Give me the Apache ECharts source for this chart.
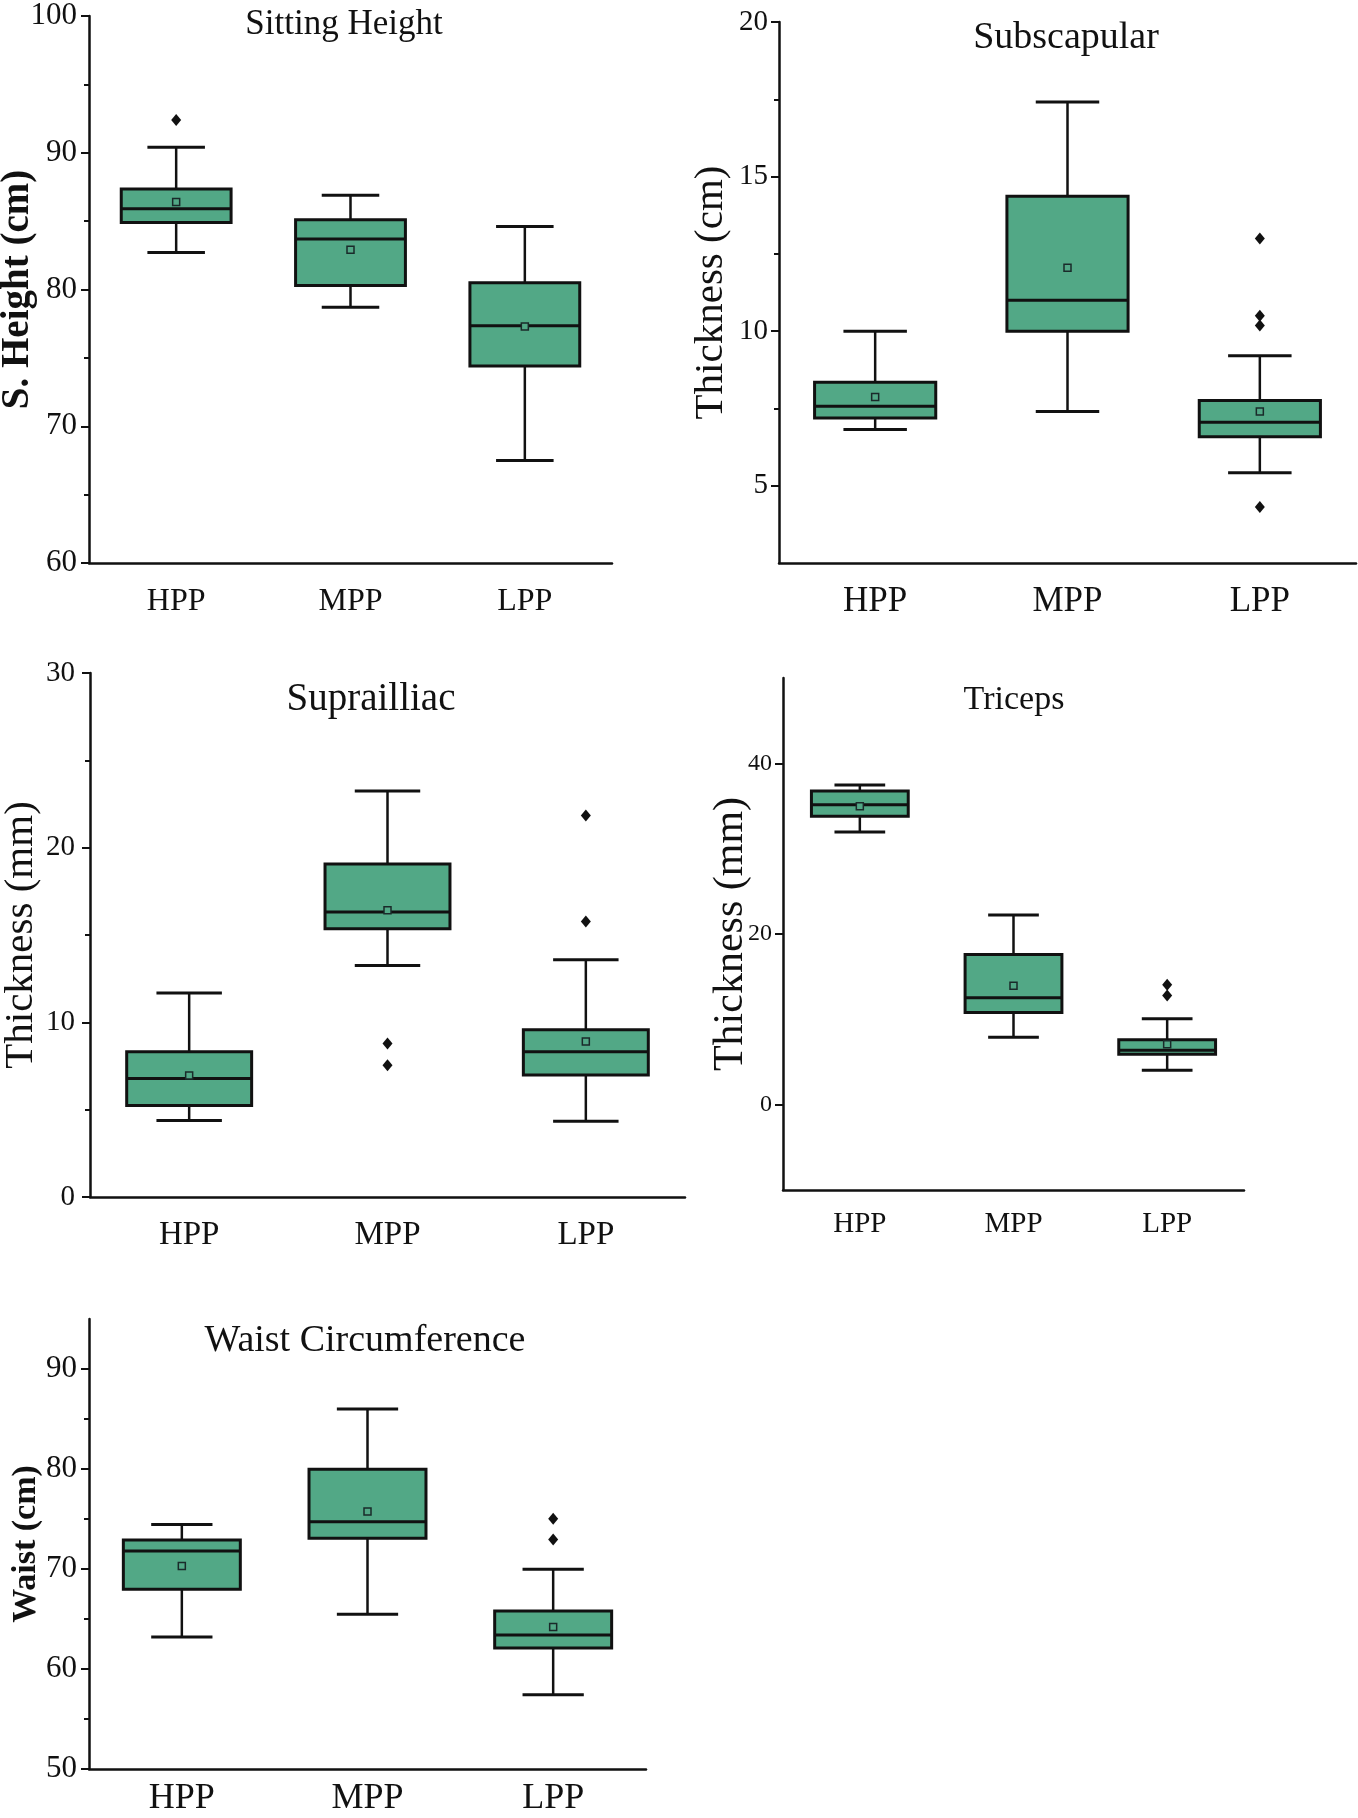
<!DOCTYPE html>
<html>
<head>
<meta charset="utf-8">
<title>Anthropometric box plots</title>
<script src="https://cdn.jsdelivr.net/npm/echarts@6/dist/echarts.min.js"></script>
<style>
  html, body { margin: 0; padding: 0; background: #fff; }
  #chart { width: 1358px; height: 1818px; }
</style>
</head>
<body>
<div id="chart"></div>
<script>
'use strict';

var categories = ['HPP', 'MPP', 'LPP'];

// box rows: [lower whisker, Q1, median, Q3, upper whisker]
var sittingBoxes = [[82.7, 84.9, 85.9, 87.35, 90.4], [78.7, 80.3, 83.7, 85.1, 86.9], [67.5, 74.4, 77.35, 80.5, 84.6]];
var sittingMeans = [86.4, 82.9, 77.3];
var sittingOutliers = [[0, 92.4]];
var sittingTicks = [60, 70, 80, 90, 100];
var sittingMinor = [65, 75, 85, 95];

var subscapBoxes = [[6.82, 7.19, 7.57, 8.35, 10.0], [7.4, 10.0, 11.0, 14.36, 17.41], [5.42, 6.58, 7.05, 7.76, 9.2]];
var subscapMeans = [7.87, 12.05, 7.4];
var subscapOutliers = [[2, 13.0], [2, 10.5], [2, 10.18], [2, 4.31]];
var subscapTicks = [5, 10, 15, 20];
var subscapMinor = [7.5, 12.5, 17.5];

var supraBoxes = [[4.38, 5.24, 6.78, 8.31, 11.68], [13.26, 15.36, 16.31, 19.07, 23.24], [4.34, 6.98, 8.31, 9.58, 13.58]];
var supraMeans = [6.96, 16.42, 8.9];
var supraOutliers = [[1, 8.79], [1, 7.54], [2, 21.84], [2, 15.77]];
var supraTicks = [0, 10, 20, 30];
var supraMinor = [5, 15, 25];

var tricepsBoxes = [[31.96, 33.81, 35.15, 36.77, 37.46], [7.9, 10.81, 12.52, 17.6, 22.22], [4.02, 5.91, 6.37, 7.62, 10.07]];
var tricepsMeans = [34.97, 13.95, 7.07];
var tricepsOutliers = [[2, 14.04], [2, 12.79]];
var tricepsTicks = [0, 20, 40];
var tricepsMinor = [];

var waistBoxes = [[63.2, 67.97, 71.8, 72.9, 74.46], [65.47, 73.07, 74.73, 79.97, 86.0], [57.43, 62.1, 63.4, 65.8, 69.97]];
var waistMeans = [70.3, 75.74, 64.19];
var waistOutliers = [[2, 75.03], [2, 72.94]];
var waistTicks = [50, 60, 70, 80, 90];
var waistMinor = [55, 65, 75, 85];

var FONT = 'Liberation Serif';
var INK = '#111';
var BOX_FILL = '#52a886';

var panels = [
    { title: 'Sitting Height', titleSize: 35, titleX: 344, titleY: 7,
      name: 'S. Height (cm)', nameBold: true, nameSize: 39, nameGap: 52,
      grid: { left: 89, top: 16, width: 523, height: 547 },
      min: 60, max: 100, ticks: sittingTicks, minor: sittingMinor,
      ySize: 31, yMargin: 12, xSize: 32, xMargin: 23,
      boxes: sittingBoxes, means: sittingMeans, outliers: sittingOutliers },
    { title: 'Subscapular', titleSize: 38, titleX: 1066, titleY: 19,
      name: 'Thickness (cm)', nameBold: false, nameSize: 41, nameGap: 47,
      grid: { left: 779, top: 22, width: 577, height: 541 },
      min: 2.5, max: 20, ticks: subscapTicks, minor: subscapMinor,
      ySize: 29, yMargin: 11, xSize: 35, xMargin: 21,
      boxes: subscapBoxes, means: subscapMeans, outliers: subscapOutliers },
    { title: 'Suprailliac', titleSize: 39, titleX: 371, titleY: 680,
      name: 'Thickness (mm)', nameBold: false, nameSize: 41, nameGap: 48,
      grid: { left: 90, top: 673, width: 595, height: 524 },
      min: 0, max: 30, ticks: supraTicks, minor: supraMinor,
      ySize: 29, yMargin: 15, xSize: 33, xMargin: 22,
      boxes: supraBoxes, means: supraMeans, outliers: supraOutliers },
    { title: 'Triceps', titleSize: 34, titleX: 1014, titleY: 683,
      name: 'Thickness (mm)', nameBold: false, nameSize: 42, nameGap: 31,
      grid: { left: 783, top: 678, width: 461, height: 512 },
      min: -10, max: 50, ticks: tricepsTicks, minor: tricepsMinor,
      ySize: 24, yMargin: 11, xSize: 29, xMargin: 20,
      boxes: tricepsBoxes, means: tricepsMeans, outliers: tricepsOutliers },
    { title: 'Waist Circumference', titleSize: 38, titleX: 365, titleY: 1322,
      name: 'Waist (cm)', nameBold: true, nameSize: 34, nameGap: 46,
      grid: { left: 89, top: 1319, width: 557, height: 450 },
      min: 50, max: 95, ticks: waistTicks, minor: waistMinor,
      ySize: 31, yMargin: 12, xSize: 36, xMargin: 12,
      boxes: waistBoxes, means: waistMeans, outliers: waistOutliers }
];

function renderBox(params, api) {
    var idx = api.value(0);
    var low = api.coord([idx, api.value(1)]);
    var q1 = api.coord([idx, api.value(2)]);
    var med = api.coord([idx, api.value(3)]);
    var q3 = api.coord([idx, api.value(4)]);
    var high = api.coord([idx, api.value(5)]);
    var band = api.size([1, 0])[0];
    var bw = band * 0.63;
    var cw = band * 0.33;
    var x = low[0];
    var lineStyle = { stroke: INK, lineWidth: 2.5 };
    return {
        type: 'group',
        children: [
            { type: 'line', shape: { x1: x, y1: high[1], x2: x, y2: q3[1] }, style: lineStyle },
            { type: 'line', shape: { x1: x, y1: q1[1], x2: x, y2: low[1] }, style: lineStyle },
            { type: 'line', shape: { x1: x - cw / 2, y1: high[1], x2: x + cw / 2, y2: high[1] }, style: { stroke: INK, lineWidth: 3 } },
            { type: 'line', shape: { x1: x - cw / 2, y1: low[1], x2: x + cw / 2, y2: low[1] }, style: { stroke: INK, lineWidth: 3 } },
            { type: 'rect', shape: { x: x - bw / 2, y: q3[1], width: bw, height: q1[1] - q3[1] },
              style: { fill: BOX_FILL, stroke: INK, lineWidth: 3 } },
            { type: 'line', shape: { x1: x - bw / 2, y1: med[1], x2: x + bw / 2, y2: med[1] }, style: { stroke: INK, lineWidth: 3 } }
        ]
    };
}

var option = {
    animation: false,
    backgroundColor: '#fff',
    textStyle: { fontFamily: FONT, color: INK },
    title: [],
    grid: [],
    xAxis: [],
    yAxis: [],
    series: []
};

panels.forEach(function (p, i) {
    option.title.push({
        text: p.title,
        left: p.titleX,
        top: p.titleY,
        textAlign: 'center',
        padding: 0,
        textStyle: { fontFamily: FONT, fontSize: p.titleSize, fontWeight: 'normal', color: INK }
    });
    var g = Object.assign({ outerBoundsMode: 'none', containLabel: false }, p.grid);
    option.grid.push(g);
    option.xAxis.push({
        type: 'category',
        gridIndex: i,
        position: 'bottom',
        data: categories,
        axisLine: { onZero: false, lineStyle: { color: INK, width: 2.5 } },
        axisTick: { alignWithLabel: true, length: 8, lineStyle: { color: INK, width: 2 } },
        axisLabel: { color: INK, fontFamily: FONT, fontSize: p.xSize, margin: p.xMargin },
        splitLine: { show: false }
    });
    option.yAxis.push({
        type: 'value',
        gridIndex: i,
        position: 'left',
        min: p.min,
        max: p.max,
        name: p.name,
        nameLocation: 'middle',
        nameGap: p.nameGap,
        nameMoveOverlap: false,
        nameTextStyle: { fontFamily: FONT, fontSize: p.nameSize, fontWeight: p.nameBold ? 'bold' : 'normal', color: INK },
        axisLine: { show: true, onZero: false, lineStyle: { color: INK, width: 2.5 } },
        axisTick: { show: true, length: 8, customValues: p.ticks, lineStyle: { color: INK, width: 2 } },
        axisLabel: { color: INK, fontFamily: FONT, fontSize: p.ySize, margin: p.yMargin, customValues: p.ticks },
        splitLine: { show: false }
    });
    option.yAxis.push({
        type: 'value',
        gridIndex: i,
        position: 'left',
        offset: 0,
        min: p.min,
        max: p.max,
        axisLine: { show: false, onZero: false },
        axisTick: { show: p.minor.length > 0, length: 5, customValues: p.minor, lineStyle: { color: INK, width: 2 } },
        axisLabel: { show: false },
        splitLine: { show: false }
    });

    option.series.push({
        type: 'custom',
        xAxisIndex: i,
        yAxisIndex: i * 2,
        renderItem: renderBox,
        encode: { x: 0, y: [1, 2, 3, 4, 5] },
        data: p.boxes.map(function (b, k) { return [k].concat(b); }),
        z: 2
    });
    option.series.push({
        type: 'scatter',
        xAxisIndex: i,
        yAxisIndex: i * 2,
        symbol: 'rect',
        symbolSize: 7,
        itemStyle: { color: BOX_FILL, borderColor: '#1a2a2a', borderWidth: 1.5, opacity: 1 },
        data: p.means.map(function (m, k) { return [k, m]; }),
        z: 4
    });
    option.series.push({
        type: 'scatter',
        xAxisIndex: i,
        yAxisIndex: i * 2,
        symbol: 'diamond',
        symbolSize: [10, 12],
        itemStyle: { color: INK, opacity: 1 },
        data: p.outliers,
        z: 4
    });
});

var chart = echarts.init(document.getElementById('chart'), null, { renderer: 'canvas' });
chart.setOption(option);
</script>
</body>
</html>
